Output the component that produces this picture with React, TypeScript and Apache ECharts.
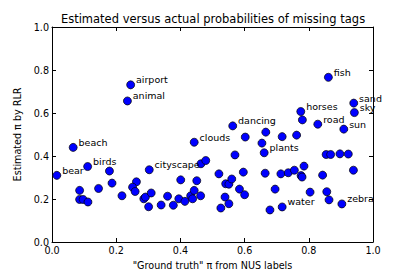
import React, { useEffect, useRef } from "react";
import * as echarts from "echarts";

const labeledNames = ["bear", "beach", "birds", "airport", "animal", "cityscape", "clouds", "dancing", "plants", "horses", "road", "sun", "sand", "sky", "fish", "water", "zebra"];
const labeledX = [0.015, 0.066, 0.111, 0.245, 0.235, 0.303, 0.443, 0.563, 0.661, 0.775, 0.828, 0.909, 0.94, 0.942, 0.861, 0.717, 0.903];
const labeledY = [0.31, 0.44, 0.351, 0.731, 0.656, 0.336, 0.464, 0.54, 0.415, 0.607, 0.548, 0.525, 0.646, 0.602, 0.766, 0.163, 0.177];

const otherX = [0.179, 0.187, 0.086, 0.145, 0.086, 0.097, 0.112, 0.218, 0.263, 0.251, 0.259, 0.286, 0.291, 0.309, 0.301, 0.34, 0.36, 0.378, 0.395, 0.401, 0.414, 0.432, 0.438, 0.463, 0.443, 0.451, 0.464, 0.479, 0.52, 0.541, 0.551, 0.56, 0.539, 0.551, 0.526, 0.584, 0.6, 0.596, 0.57, 0.602, 0.666, 0.654, 0.664, 0.679, 0.695, 0.713, 0.736, 0.755, 0.785, 0.776, 0.779, 0.717, 0.762, 0.78, 0.843, 0.804, 0.856, 0.863, 0.854, 0.868, 0.897, 0.923, 0.939];
const otherY = [0.33, 0.274, 0.24, 0.249, 0.198, 0.198, 0.186, 0.215, 0.28, 0.255, 0.235, 0.201, 0.209, 0.228, 0.164, 0.172, 0.213, 0.171, 0.201, 0.289, 0.189, 0.215, 0.201, 0.215, 0.24, 0.285, 0.364, 0.379, 0.317, 0.271, 0.269, 0.293, 0.209, 0.178, 0.158, 0.246, 0.22, 0.325, 0.405, 0.488, 0.511, 0.46, 0.32, 0.149, 0.246, 0.317, 0.322, 0.334, 0.353, 0.309, 0.302, 0.49, 0.497, 0.568, 0.311, 0.232, 0.234, 0.196, 0.407, 0.407, 0.41, 0.409, 0.334];

const titleText = "Estimated versus actual probabilities of missing tags";
const xName = "\"Ground truth\" \u03c0 from NUS labels";
const yName = "Estimated \u03c0 by RLR";

const FONT = "DejaVu Sans";

export default function App() {
  const ref = useRef<HTMLDivElement>(null);
  useEffect(() => {
    if (!ref.current) return;
    const chart = echarts.init(ref.current, undefined, { renderer: "svg" });
    const axisCommon = {
      type: "value" as const,
      min: 0,
      max: 1,
      interval: 0.2,
      splitLine: { show: false },
      axisLine: { show: true, onZero: false, lineStyle: { color: "#000", width: 1 } },
      axisTick: { show: true, inside: true, length: 4, lineStyle: { color: "#000", width: 1 } },
    };
    const labelStyle = {
      color: "#000",
      fontSize: 9.6,
      fontFamily: FONT,
      formatter: (v: number) => v.toFixed(1),
    };
    const otherData = otherX.map((x, i) => [x, otherY[i]]);
    const labeledData = labeledX.map((x, i) => ({
      name: labeledNames[i],
      value: [x, labeledY[i]],
    }));
    chart.setOption({
      animation: false,
      backgroundColor: "#fff",
      grid: { left: 52, top: 27, width: 321, height: 215, show: false },
      graphic: [
        {
          type: "text",
          x: 213,
          y: 19,
          style: {
            text: titleText,
            font: `11.5px "${FONT}"`,
            fill: "#000",
            textAlign: "center",
            textVerticalAlign: "middle",
          },
        },
      ],
      xAxis: [
        {
          ...axisCommon,
          position: "bottom",
          axisLabel: { ...labelStyle, margin: 3 },
          name: xName,
          nameLocation: "middle",
          nameGap: 18,
          nameTextStyle: { color: "#000", fontSize: 9.6, fontFamily: FONT },
        },
        {
          ...axisCommon,
          position: "top",
          axisLabel: { show: false },
        },
      ],
      yAxis: [
        {
          ...axisCommon,
          position: "left",
          axisLabel: { ...labelStyle, margin: 3 },
          name: yName,
          nameLocation: "middle",
          nameGap: 19,
          nameTextStyle: { color: "#000", fontSize: 9.6, fontFamily: FONT },
        },
        {
          ...axisCommon,
          position: "right",
          axisLabel: { show: false },
        },
      ],
      series: [
        {
          type: "scatter",
          xAxisIndex: 0,
          yAxisIndex: 0,
          symbol: "circle",
          symbolSize: 8,
          itemStyle: { color: "#0000ff", borderColor: "#000", borderWidth: 0.7, opacity: 1 },
          data: otherData,
        },
        {
          type: "scatter",
          xAxisIndex: 0,
          yAxisIndex: 0,
          symbol: "circle",
          symbolSize: 8,
          itemStyle: { color: "#0000ff", borderColor: "#000", borderWidth: 0.7, opacity: 1 },
          label: {
            show: true,
            position: "right",
            distance: 1,
            offset: [0, -5],
            formatter: "{b}",
            color: "#000",
            fontSize: 9.5,
            fontFamily: FONT,
          },
          data: labeledData,
        },
      ],
    });
    return () => chart.dispose();
  }, []);
  return (
    <div
      ref={ref}
      style={{ position: "fixed", left: 0, top: 0, width: 415, height: 277, background: "#fff" }}
    />
  );
}
